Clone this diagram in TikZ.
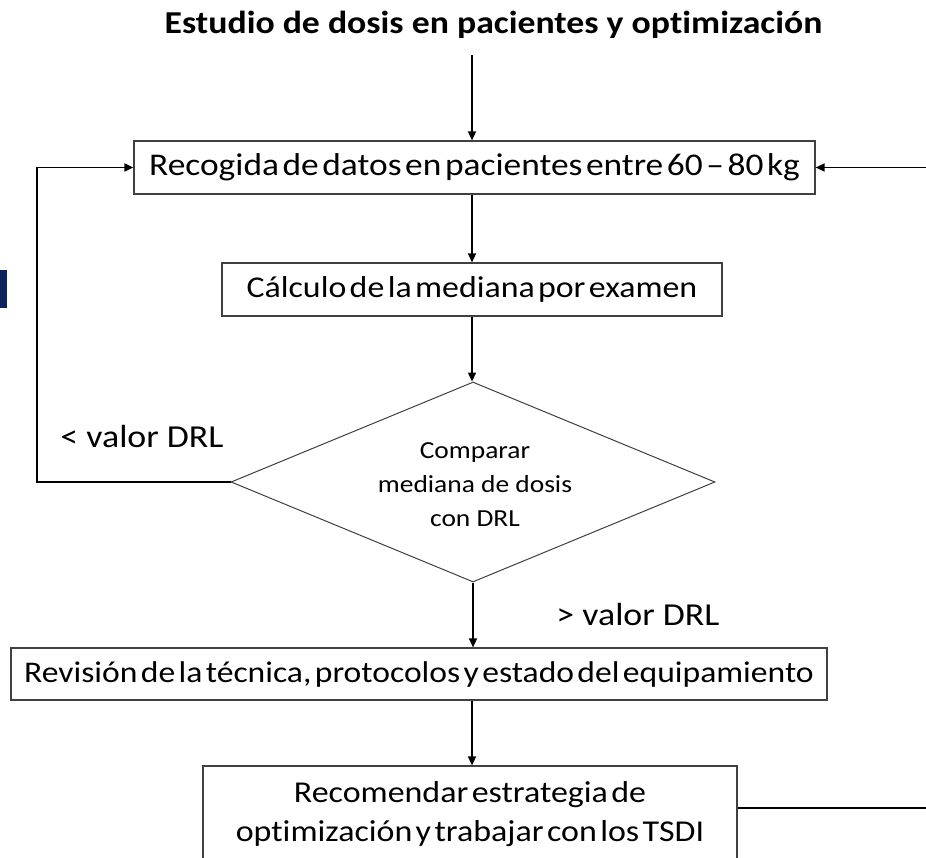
\documentclass[tikz,border=0pt]{standalone}
\usepackage{fontspec}
\setmainfont[FakeStretch=1.12, Ligatures=CommonOff]{Carlito}
\newfontfamily\tightfont[FakeStretch=1.12, Ligatures=CommonOff, WordSpace=0.45]{Carlito}
\usetikzlibrary{arrows.meta,shapes.geometric,calc}
\definecolor{navy}{RGB}{12,36,94}
\begin{document}
\begin{tikzpicture}[x=1pt,y=-1pt,
  box/.style={draw=black!75, line width=1.2pt, inner sep=0pt, fill=white},
  boxfont/.style={font=\fontsize{#1}{39}\selectfont\tightfont},
  arr/.style={line width=1.5pt, -{Triangle[length=9pt,width=8pt]}},
  fb/.style={line width=2.8pt},
  lbl/.style={inner sep=0pt, font=\fontsize{32}{36}\selectfont}]
\useasboundingbox (0,0) rectangle (926,857);
\clip (0,0) rectangle (926,857);
\fill[white] (0,0) rectangle (926,857);
% stray bar at left edge
\fill[navy] (0,270) rectangle (7,308);
% title
\node[inner sep=0pt, font=\fontsize{31.9}{36}\selectfont\bfseries] (title) at (493.5,25) {Estudio de dosis en pacientes y optimización};
\coordinate (ts) at (472,55);
\coordinate (ax) at (472,0);
% boxes
\node[box, boxfont=31.6, minimum width=681pt, minimum height=53pt] (b1) at (474.5,167.5) {Recogida de datos en pacientes entre 60 – 80 kg};
\node[box, boxfont=30.2, minimum width=500pt, minimum height=53pt] (b2) at (472,289.5) {Cálculo de la mediana por examen};
\node[diamond, draw=black!75, line width=1pt, minimum width=484pt, minimum height=200pt, inner sep=0pt] (d) at (473,482) {};
\node[align=center, inner sep=0pt, font=\fontsize{24.5}{34}\selectfont] (dt) at (475,485) {Comparar\\mediana de dosis\\con DRL};
\node[box, boxfont=30, minimum width=816pt, minimum height=52pt] (b3) at (419,674) {Revisión de la técnica, protocolos y estado del equipamiento};
\node[box, boxfont=30.3, minimum width=534pt, minimum height=96pt, align=center] (b4) at (470,814) {Recomendar estrategia de\\optimización y trabajar con los TSDI};
% labels
\node[lbl] (lt) at (142,437) {< valor DRL};
\node[lbl] (gt) at (638,614) {> valor DRL};
% connectors
\draw[arr] (ts) -- (ts |- b1.north);
\draw[arr] (b1.south -| ax) -- (b2.north -| ax);
\draw[arr] (b2.south -| ax) -- (d.north -| ax);
\draw[arr] (d.south) -- (b3.north -| d.south);
\draw[arr] (b3.south -| ax) -- (b4.north -| ax);
\coordinate (lc) at (37,483);
\draw[fb] (d.west) -- (d.west -| lc) -- (lc |- b1.west);
\draw[line width=1.8pt, -{Triangle[length=9pt,width=8pt]}] ($(lc |- b1.west)+(-1.4,0)$) -- (b1.west);
\coordinate (re) at (927,167.5);
\draw[arr] (re) -- (b1.east);
\coordinate (be) at (927,808);
\draw[fb] (be -| b4.east) -- (be);
\end{tikzpicture}
\end{document}
